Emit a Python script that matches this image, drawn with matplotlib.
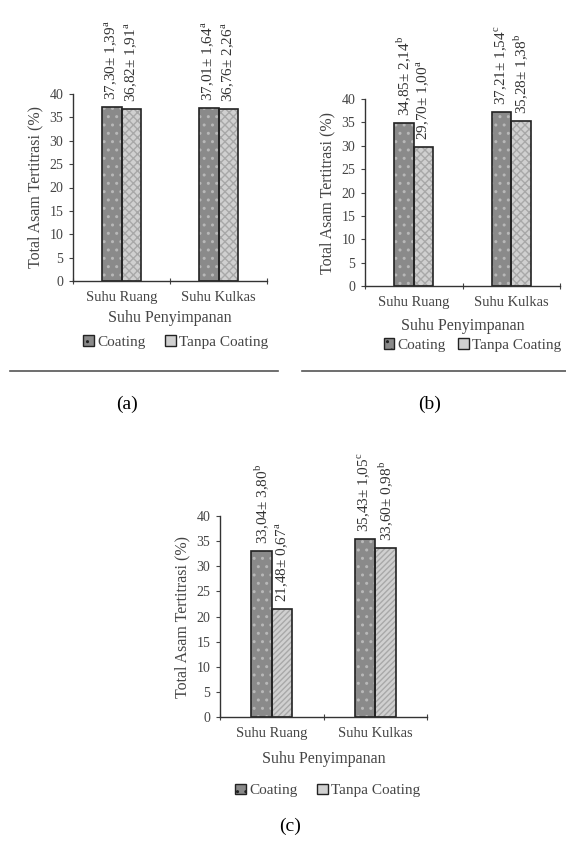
import matplotlib.pyplot as plt
from matplotlib.patches import Patch
import numpy as np

plt.rcParams['font.family'] = ['Liberation Serif', 'DejaVu Serif']
plt.rcParams['mathtext.fontset'] = 'custom'
plt.rcParams['mathtext.rm'] = 'Liberation Serif'

categories = ["Suhu Ruang", "Suhu Kulkas"]
series = ["Coating", "Tanpa Coating"]

# total asam tertitrasi (%) per panel: [coating, tanpa coating] for each storage temp
coating_a = [37.30, 37.01]
tanpa_a = [36.82, 36.76]
labels_coating_a = ["37,30± 1,39$^{\\mathrm{a}}$", "37,01± 1,64$^{\\mathrm{a}}$"]
labels_tanpa_a = ["36,82± 1,91$^{\\mathrm{a}}$", "36,76± 2,26$^{\\mathrm{a}}$"]

coating_b = [34.85, 37.21]
tanpa_b = [29.70, 35.28]
labels_coating_b = ["34,85± 2,14$^{\\mathrm{b}}$", "37,21± 1,54$^{\\mathrm{c}}$"]
labels_tanpa_b = ["29,70± 1,00$^{\\mathrm{a}}$", "35,28± 1,38$^{\\mathrm{b}}$"]

coating_c = [33.04, 35.43]
tanpa_c = [21.48, 33.60]
labels_coating_c = ["33,04± 3,80$^{\\mathrm{b}}$", "35,43± 1,05$^{\\mathrm{c}}$"]
labels_tanpa_c = ["21,48± 0,67$^{\\mathrm{a}}$", "33,60± 0,98$^{\\mathrm{b}}$"]

yticks = [0, 5, 10, 15, 20, 25, 30, 35, 40]

W, H = 566, 851
fig = plt.figure(figsize=(W / 100, H / 100), dpi=100)


def px_axes(left, right, bottom, top):
    # axes box given in pixel coords (origin top-left)
    return fig.add_axes([left / W, 1 - bottom / H, (right - left) / W, (bottom - top) / H])


def draw_panel(ax, coating, tanpa, lab_c, lab_t, tanpa_hatch, xlab_y, leg_x, leg_y, colsp=1.3):
    x = np.arange(len(categories))
    w = 0.2
    c_dark = '#8a8a8a'
    c_light = '#d0d0d0'
    # fill + texture first, then black outline on top
    ax.bar(x - w / 2, coating, w, color=c_dark, hatch='..', edgecolor='#b8b8b8', linewidth=0)
    ax.bar(x + w / 2, tanpa, w, color=c_light, hatch=tanpa_hatch, edgecolor='#a8a8a8', linewidth=0)
    ax.bar(x - w / 2, coating, w, fill=False, edgecolor='#222222', linewidth=1.2)
    ax.bar(x + w / 2, tanpa, w, fill=False, edgecolor='#222222', linewidth=1.2)

    for xi, v, t in zip(x - w / 2, coating, lab_c):
        ax.annotate(t, (xi, v), xytext=(0, 5), textcoords='offset points',
                    rotation=90, ha='center', va='bottom', fontsize=11, color='#333333')
    for xi, v, t in zip(x + w / 2, tanpa, lab_t):
        ax.annotate(t, (xi, v), xytext=(0, 5), textcoords='offset points',
                    rotation=90, ha='center', va='bottom', fontsize=11, color='#333333')

    ax.set_xlim(-0.5, 1.5)
    ax.set_ylim(0, 40)
    ax.set_yticks(yticks)
    ax.tick_params(axis='y', direction='out', length=3, labelsize=10, colors='#444444', pad=4)
    # ticks between categories, labels under the categories
    ax.set_xticks([-0.5, 0.5, 1.5])
    ax.set_xticklabels([])
    ax.tick_params(axis='x', which='major', direction='inout', length=5, colors='#444444')
    ax.set_xticks(x, minor=True)
    ax.set_xticklabels(categories, minor=True, fontsize=10.5, color='#444444')
    ax.tick_params(axis='x', which='minor', length=0, pad=7)
    for s in ['top', 'right']:
        ax.spines[s].set_visible(False)
    for s in ['left', 'bottom']:
        ax.spines[s].set_color('#333333')
        ax.spines[s].set_linewidth(1.0)
    ax.set_ylabel("Total Asam Tertitrasi (%)", fontsize=11.5, color='#444444', labelpad=4)
    ax.text(0.5, xlab_y, "Suhu Penyimpanan", transform=ax.transAxes,
            ha='center', va='center', fontsize=11.5, color='#444444')
    handles = [Patch(facecolor=c_dark, edgecolor='#222222', hatch='..', label=series[0]),
               Patch(facecolor=c_light, edgecolor='#222222', label=series[1])]
    ax.legend(handles=handles, loc='center', bbox_to_anchor=(leg_x, leg_y), ncol=2,
              frameon=False, fontsize=11, handlelength=0.7, handleheight=0.7,
              handletextpad=0.2, columnspacing=colsp, labelcolor='#444444')


ax_a = px_axes(73, 267, 281, 94)
draw_panel(ax_a, coating_a, tanpa_a, labels_coating_a, labels_tanpa_a, 'xxxx', -0.2, 0.53, -0.325)

ax_b = px_axes(365, 560, 286, 99)
draw_panel(ax_b, coating_b, tanpa_b, labels_coating_b, labels_tanpa_b, 'xxxx', -0.215, 0.55, -0.315,
           colsp=0.8)

ax_c = px_axes(220, 427, 717, 516)
draw_panel(ax_c, coating_c, tanpa_c, labels_coating_c, labels_tanpa_c, '//////', -0.21, 0.52, -0.365)

# separator lines under the top two panels
fig.add_artist(plt.Line2D([10 / W, 278 / W], [1 - 371 / H, 1 - 371 / H], color='#555555', lw=1.2))
fig.add_artist(plt.Line2D([302 / W, 1.0], [1 - 371 / H, 1 - 371 / H], color='#555555', lw=1.2))

fig.text(127 / W, 1 - 404 / H, "(a)", ha='center', va='center', fontsize=14)
fig.text(430 / W, 1 - 404 / H, "(b)", ha='center', va='center', fontsize=14)
fig.text(290 / W, 1 - 826 / H, "(c)", ha='center', va='center', fontsize=14)

fig.savefig("out.png", dpi=100)
